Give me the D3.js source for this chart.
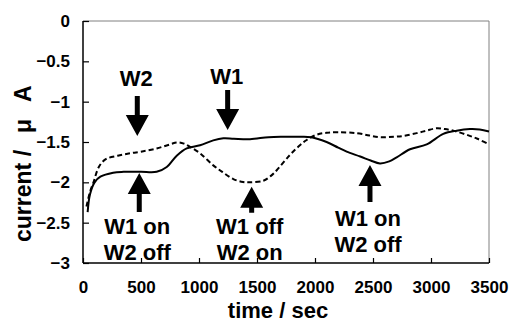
<!DOCTYPE html>
<html>
<head>
<meta charset="utf-8">
<script src="https://cdn.jsdelivr.net/npm/d3@7"></script>
<style>
  html, body { margin: 0; padding: 0; background: #fff; }
  svg { display: block; font-family: "Liberation Sans", Arial, sans-serif; font-weight: bold; }
</style>
</head>
<body>
<svg id="chart" width="510" height="325"></svg>
<script>
// ---- data ----
const xTicks = [0, 500, 1000, 1500, 2000, 2500, 3000, 3500];
const yTicks = [0, -0.5, -1, -1.5, -2, -2.5, -3];
const yTickLabels = ["0", "\u22120.5", "\u22121", "\u22121.5", "\u22122", "\u22122.5", "\u22123"];

const solidTime = [40, 60, 100, 150, 260, 350, 500, 635, 722, 808, 894, 1009, 1123, 1210, 1300, 1440, 1600, 1727, 1850, 1970, 2100, 2200, 2273, 2390, 2480, 2560, 2640, 2704, 2819, 2963, 3106, 3221, 3336, 3420, 3500];
const solidValue = [-2.37, -2.15, -2.0, -1.93, -1.88, -1.87, -1.87, -1.87, -1.81, -1.67, -1.58, -1.54, -1.48, -1.455, -1.46, -1.465, -1.44, -1.435, -1.435, -1.44, -1.5, -1.57, -1.62, -1.68, -1.73, -1.765, -1.74, -1.69, -1.59, -1.53, -1.4, -1.36, -1.34, -1.345, -1.37];

const dashTime = [30, 60, 90, 140, 200, 300, 405, 500, 635, 750, 808, 870, 922, 1009, 1123, 1200, 1296, 1380, 1440, 1555, 1620, 1670, 1784, 1870, 1928, 2014, 2100, 2200, 2359, 2470, 2560, 2680, 2761, 2877, 2960, 3049, 3120, 3193, 3307, 3400, 3500];
const dashValue = [-2.3, -2.12, -2.0, -1.8, -1.71, -1.67, -1.64, -1.62, -1.58, -1.53, -1.505, -1.52, -1.56, -1.64, -1.79, -1.87, -1.96, -1.995, -2.0, -1.98, -1.92, -1.85, -1.66, -1.54, -1.475, -1.41, -1.385, -1.38, -1.39, -1.42, -1.44, -1.435, -1.425, -1.39, -1.36, -1.33, -1.34, -1.36, -1.41, -1.46, -1.53];

// annotations: label lines, arrow time, arrow tip value, direction
const annoLines = [["W2"], ["W1"], ["W1 on", "W2 off"], ["W1 off", "W2 on"], ["W1 on", "W2 off"]];
const annoTime = [468, 1247, 485, 1454, 2474];
const annoTip = [-1.4255, -1.351, -1.884, -2.054, -1.785];
const annoDir = ["down", "down", "up", "up", "up"];

// ---- layout ----
const svg = d3.select("#chart");
const mLeft = 83, mRight = 489, mTop = 21, mBottom = 263;
const x = d3.scaleLinear().domain([0, 3500]).range([mLeft, mRight]);
const y = d3.scaleLinear().domain([0, -3]).range([mTop, mBottom]);

// frame (top/right grey)
svg.append("path")
  .attr("d", `M${mLeft},${mTop}H${mRight}V${mBottom}`)
  .attr("fill", "none").attr("stroke", "#808080").attr("stroke-width", 1);

// lines
const line = d3.line().curve(d3.curveCatmullRom.alpha(0.5));
const solidPts = solidTime.map((t, i) => [x(t), y(solidValue[i])]);
const dashPts = dashTime.map((t, i) => [x(t), y(dashValue[i])]);
svg.append("path").attr("d", line(dashPts)).attr("fill", "none")
  .attr("stroke", "#000").attr("stroke-width", 2).attr("stroke-dasharray", "5,3");
svg.append("path").attr("d", line(solidPts)).attr("fill", "none")
  .attr("stroke", "#000").attr("stroke-width", 2);

// annotations
const arrowLen = [40, 40, 39, 26, 37];
const headH = 21, headW = 23, shaftW = 5;
annoLines.forEach((lines, i) => {
  const ax = x(annoTime[i]);
  const tipY = y(annoTip[i]);
  const L = arrowLen[i];
  const g = svg.append("g");
  let d;
  if (annoDir[i] === "down") {
    const topY = tipY - L;
    const hb = tipY - headH;
    d = `M${ax - shaftW/2},${topY}H${ax + shaftW/2}V${hb}H${ax + headW/2}L${ax},${tipY}L${ax - headW/2},${hb}H${ax - shaftW/2}Z`;
    g.append("text").attr("x", ax - 1).attr("y", topY - (i === 0 ? 9.7 : 6))
      .attr("text-anchor", "middle").attr("font-size", 22).text(lines[0]);
  } else {
    const botY = tipY + L;
    const hb = tipY + headH;
    d = `M${ax - shaftW/2},${botY}H${ax + shaftW/2}V${hb}H${ax + headW/2}L${ax},${tipY}L${ax - headW/2},${hb}H${ax - shaftW/2}Z`;
    const base = tipY + (i === 3 ? 47.5 : 61.5);
    lines.forEach((s, k) => {
      g.append("text").attr("x", ax - 2).attr("y", base + k * 26)
        .attr("text-anchor", "middle").attr("font-size", 22).text(s);
    });
  }
  g.append("path").attr("d", d).attr("fill", "#000");
});

// axes
const xAxis = d3.axisBottom(x).tickValues(xTicks).tickSize(-5).tickPadding(10).tickFormat(d3.format("d"));
const gx = svg.append("g").attr("transform", `translate(0,${mBottom})`).call(xAxis);
gx.select(".domain").attr("d", `M${mLeft},0H${mRight}`).attr("stroke-width", 1.5);
gx.selectAll(".tick line").attr("stroke-width", 1.2);
gx.selectAll(".tick text").attr("font-size", 17).attr("font-family", "Liberation Sans, Arial, sans-serif")
  .attr("font-weight", "bold").attr("dy", "0.71em").attr("y", 18).attr("fill", "#000");

const yAxis = d3.axisLeft(y).tickValues(yTicks).tickSize(-6).tickPadding(13)
  .tickFormat((d, i) => yTickLabels[i]);
const gy = svg.append("g").attr("transform", `translate(${mLeft},0)`).call(yAxis);
gy.select(".domain").attr("d", `M0,${mTop}V${mBottom}`).attr("stroke-width", 1.5);
gy.selectAll(".tick line").attr("stroke-width", 1.2);
gy.selectAll(".tick text").attr("font-size", 17).attr("font-family", "Liberation Sans, Arial, sans-serif")
  .attr("font-weight", "bold").attr("fill", "#000");

// axis titles
svg.append("text").attr("x", 278).attr("y", 318).attr("text-anchor", "middle")
  .attr("font-size", 22).text("time / sec");

const yt = svg.append("text").attr("transform", "translate(31,242) rotate(-90)")
  .attr("text-anchor", "start").attr("font-size", 23);
yt.append("tspan").text("current /");
yt.append("tspan").attr("dx", 17).text("\u03bc");
yt.append("tspan").attr("dx", 17).text("A");
</script>
</body>
</html>
